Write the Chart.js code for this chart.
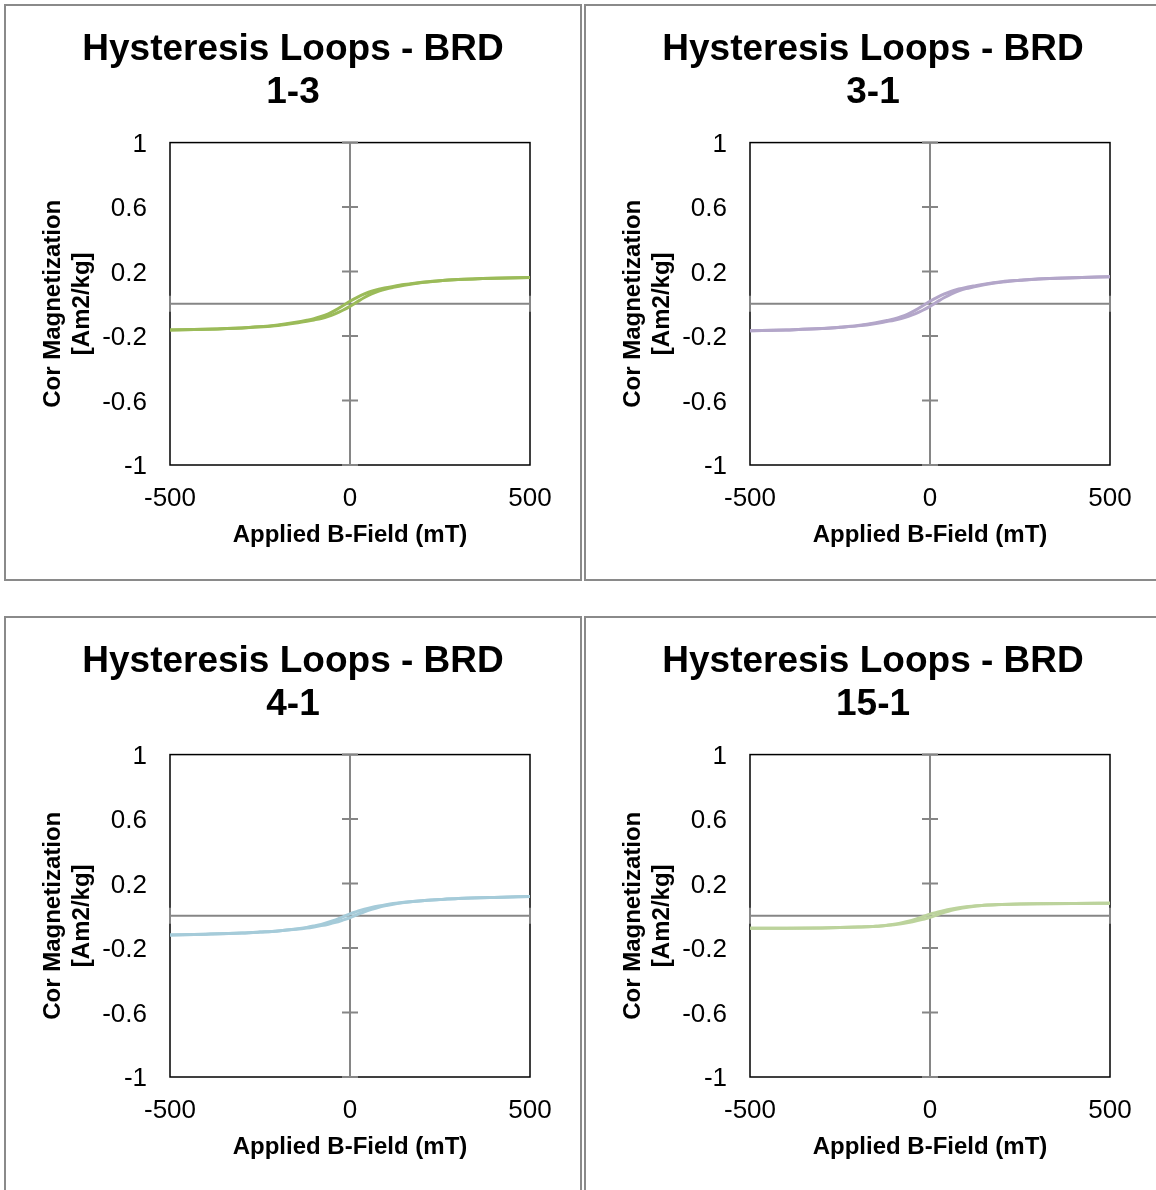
<!DOCTYPE html>
<html>
<head>
<meta charset="utf-8">
<script src="https://cdn.jsdelivr.net/npm/chart.js@4/dist/chart.umd.min.js"></script>
<style>
  html, body { margin: 0; padding: 0; overflow: hidden; background: #fff; width: 1156px; height: 1190px; }
  .panel { position: absolute; width: 574px; height: 573px; border: 2px solid #8a8a8a; background: #fff; }
  .panel canvas { position: absolute; left: 0; top: 0; }
</style>
</head>
<body>
<div class="panel" style="left:4px;top:4px"><canvas id="c0" width="574" height="573"></canvas></div>
<div class="panel" style="left:584px;top:4px"><canvas id="c1" width="574" height="573"></canvas></div>
<div class="panel" style="left:4px;top:616px"><canvas id="c2" width="574" height="573"></canvas></div>
<div class="panel" style="left:584px;top:616px"><canvas id="c3" width="574" height="573"></canvas></div>
<script>
// ---- data ----
const sampleNames = ['1-3', '3-1', '4-1', '15-1'];
const titlePrefix = 'Hysteresis Loops - BRD';
const xAxisTitle = 'Applied B-Field (mT)';
const yAxisTitle = ['Cor Magnetization', '[Am2/kg]'];
const xTickLabels = ['-500', '0', '500'];
const yTickLabels = ['-1', '-0.6', '-0.2', '0.2', '0.6', '1'];
const fieldValues = [-500,-400,-300,-250,-200,-150,-120,-100,-80,-60,-40,-20,0,20,40,60,80,100,120,150,200,250,300,400,500];

const brd13Upper = [-0.163,-0.158,-0.150,-0.143,-0.132,-0.115,-0.102,-0.092,-0.079,-0.062,-0.039,-0.012,0.016,0.040,0.061,0.078,0.091,0.100,0.108,0.119,0.134,0.143,0.150,0.158,0.163];
const brd13Lower = [-0.163,-0.158,-0.150,-0.143,-0.134,-0.119,-0.108,-0.100,-0.091,-0.078,-0.061,-0.040,-0.016,0.012,0.039,0.062,0.079,0.092,0.102,0.115,0.132,0.143,0.150,0.158,0.163];
const brd31Upper = [-0.168,-0.162,-0.154,-0.146,-0.135,-0.118,-0.104,-0.094,-0.080,-0.062,-0.039,-0.012,0.016,0.040,0.061,0.078,0.092,0.102,0.110,0.122,0.137,0.146,0.154,0.162,0.168];
const brd31Lower = [-0.168,-0.162,-0.154,-0.146,-0.137,-0.122,-0.110,-0.102,-0.092,-0.078,-0.061,-0.040,-0.016,0.012,0.039,0.062,0.080,0.094,0.104,0.118,0.135,0.146,0.154,0.162,0.168];
const brd41Upper = [-0.119,-0.114,-0.107,-0.101,-0.094,-0.082,-0.072,-0.063,-0.053,-0.040,-0.025,-0.007,0.012,0.027,0.041,0.052,0.061,0.069,0.076,0.084,0.094,0.101,0.107,0.114,0.119];
const brd41Lower = [-0.119,-0.114,-0.107,-0.101,-0.094,-0.084,-0.076,-0.069,-0.061,-0.052,-0.041,-0.027,-0.012,0.007,0.025,0.040,0.053,0.063,0.072,0.082,0.094,0.101,0.107,0.114,0.119];
const brd151Upper = [-0.078,-0.077,-0.075,-0.073,-0.070,-0.065,-0.058,-0.052,-0.044,-0.034,-0.021,-0.006,0.010,0.022,0.033,0.042,0.050,0.056,0.060,0.065,0.070,0.073,0.075,0.077,0.078];
const brd151Lower = [-0.078,-0.077,-0.075,-0.073,-0.070,-0.065,-0.060,-0.056,-0.050,-0.042,-0.033,-0.022,-0.010,0.006,0.021,0.034,0.044,0.052,0.058,0.065,0.070,0.073,0.075,0.077,0.078];

const seriesUpper = [brd13Upper, brd31Upper, brd41Upper, brd151Upper];
const seriesLower = [brd13Lower, brd31Lower, brd41Lower, brd151Lower];
const seriesColors = ['#9bbb59', '#b3a6c9', '#a5cbd9', '#bcd39c'];

// ---- rendering ----
const FONT = "'Liberation Sans', Arial, sans-serif";

const crossAxesPlugin = {
  id: 'crossAxes',
  beforeDatasetsDraw(chart) {
    const {ctx, chartArea: a, scales: {x, y}} = chart;
    ctx.save();
    ctx.strokeStyle = '#000';
    ctx.lineWidth = 1.5;
    ctx.strokeRect(a.left, a.top, a.right - a.left, a.bottom - a.top);
    const x0 = x.getPixelForValue(0), y0 = y.getPixelForValue(0);
    ctx.strokeStyle = '#868686';
    ctx.lineWidth = 2;
    ctx.beginPath();
    ctx.moveTo(a.left, y0); ctx.lineTo(a.right, y0);
    ctx.moveTo(x0, a.top); ctx.lineTo(x0, a.bottom);
    y.ticks.forEach(t => {
      const py = y.getPixelForValue(t.value);
      ctx.moveTo(x0 - 8, py); ctx.lineTo(x0 + 8, py);
    });
    x.ticks.forEach(t => {
      const px = x.getPixelForValue(t.value);
      ctx.moveTo(px, y0 - 8); ctx.lineTo(px, y0 + 8);
    });
    ctx.stroke();
    ctx.restore();
  }
};

function makeChart(i) {
  const mk = (arr) => fieldValues.map((b, k) => ({x: b, y: arr[k]}));
  const ds = (arr) => ({
    data: mk(arr), showLine: true, borderColor: seriesColors[i], backgroundColor: seriesColors[i],
    borderWidth: 3, pointRadius: 0, cubicInterpolationMode: 'monotone', fill: false
  });
  return new Chart(document.getElementById('c' + i), {
    type: 'scatter',
    data: { datasets: [ds(seriesUpper[i]), ds(seriesLower[i])] },
    options: {
      responsive: false, animation: false, events: [],
      layout: { padding: 0 },
      plugins: {
        legend: { display: false }, tooltip: { enabled: false },
        title: {
          display: true, text: [titlePrefix, sampleNames[i]], color: '#000',
          font: { family: FONT, size: 37, weight: 'bold', lineHeight: 1.17 },
          padding: { top: 22, bottom: 28 }
        }
      },
      scales: {
        x: {
          type: 'linear', min: -500, max: 500,
          grid: { display: false, drawTicks: false }, border: { display: false },
          ticks: { stepSize: 500, padding: 18, color: '#000', maxRotation: 0,
                   font: { family: FONT, size: 26 },
                   callback: (v, idx) => xTickLabels[idx] },
          title: { display: true, text: xAxisTitle, color: '#000', padding: { top: 0, bottom: 29 },
                   font: { family: FONT, size: 24, weight: 'bold' } },
          afterFit(s) { s.height = 114; }
        },
        y: {
          type: 'linear', min: -1, max: 1,
          grid: { display: false, drawTicks: false }, border: { display: false },
          ticks: { stepSize: 0.4, padding: 23, color: '#000', labelOffset: 2,
                   font: { family: FONT, size: 26 },
                   callback: (v, idx) => yTickLabels[idx] },
          title: { display: true, text: yAxisTitle, color: '#000', padding: { top: 33, bottom: 0 },
                   font: { family: FONT, size: 24, weight: 'bold' } },
          afterFit(s) { s.width = 164; }
        },
        yR: {
          type: 'linear', position: 'right', min: -1, max: 1, display: true,
          grid: { display: false, drawTicks: false }, border: { display: false },
          ticks: { display: false },
          afterFit(s) { s.width = 50; }
        }
      }
    },
    plugins: [crossAxesPlugin]
  });
}
[0, 1, 2, 3].forEach(makeChart);
</script>
</body>
</html>
